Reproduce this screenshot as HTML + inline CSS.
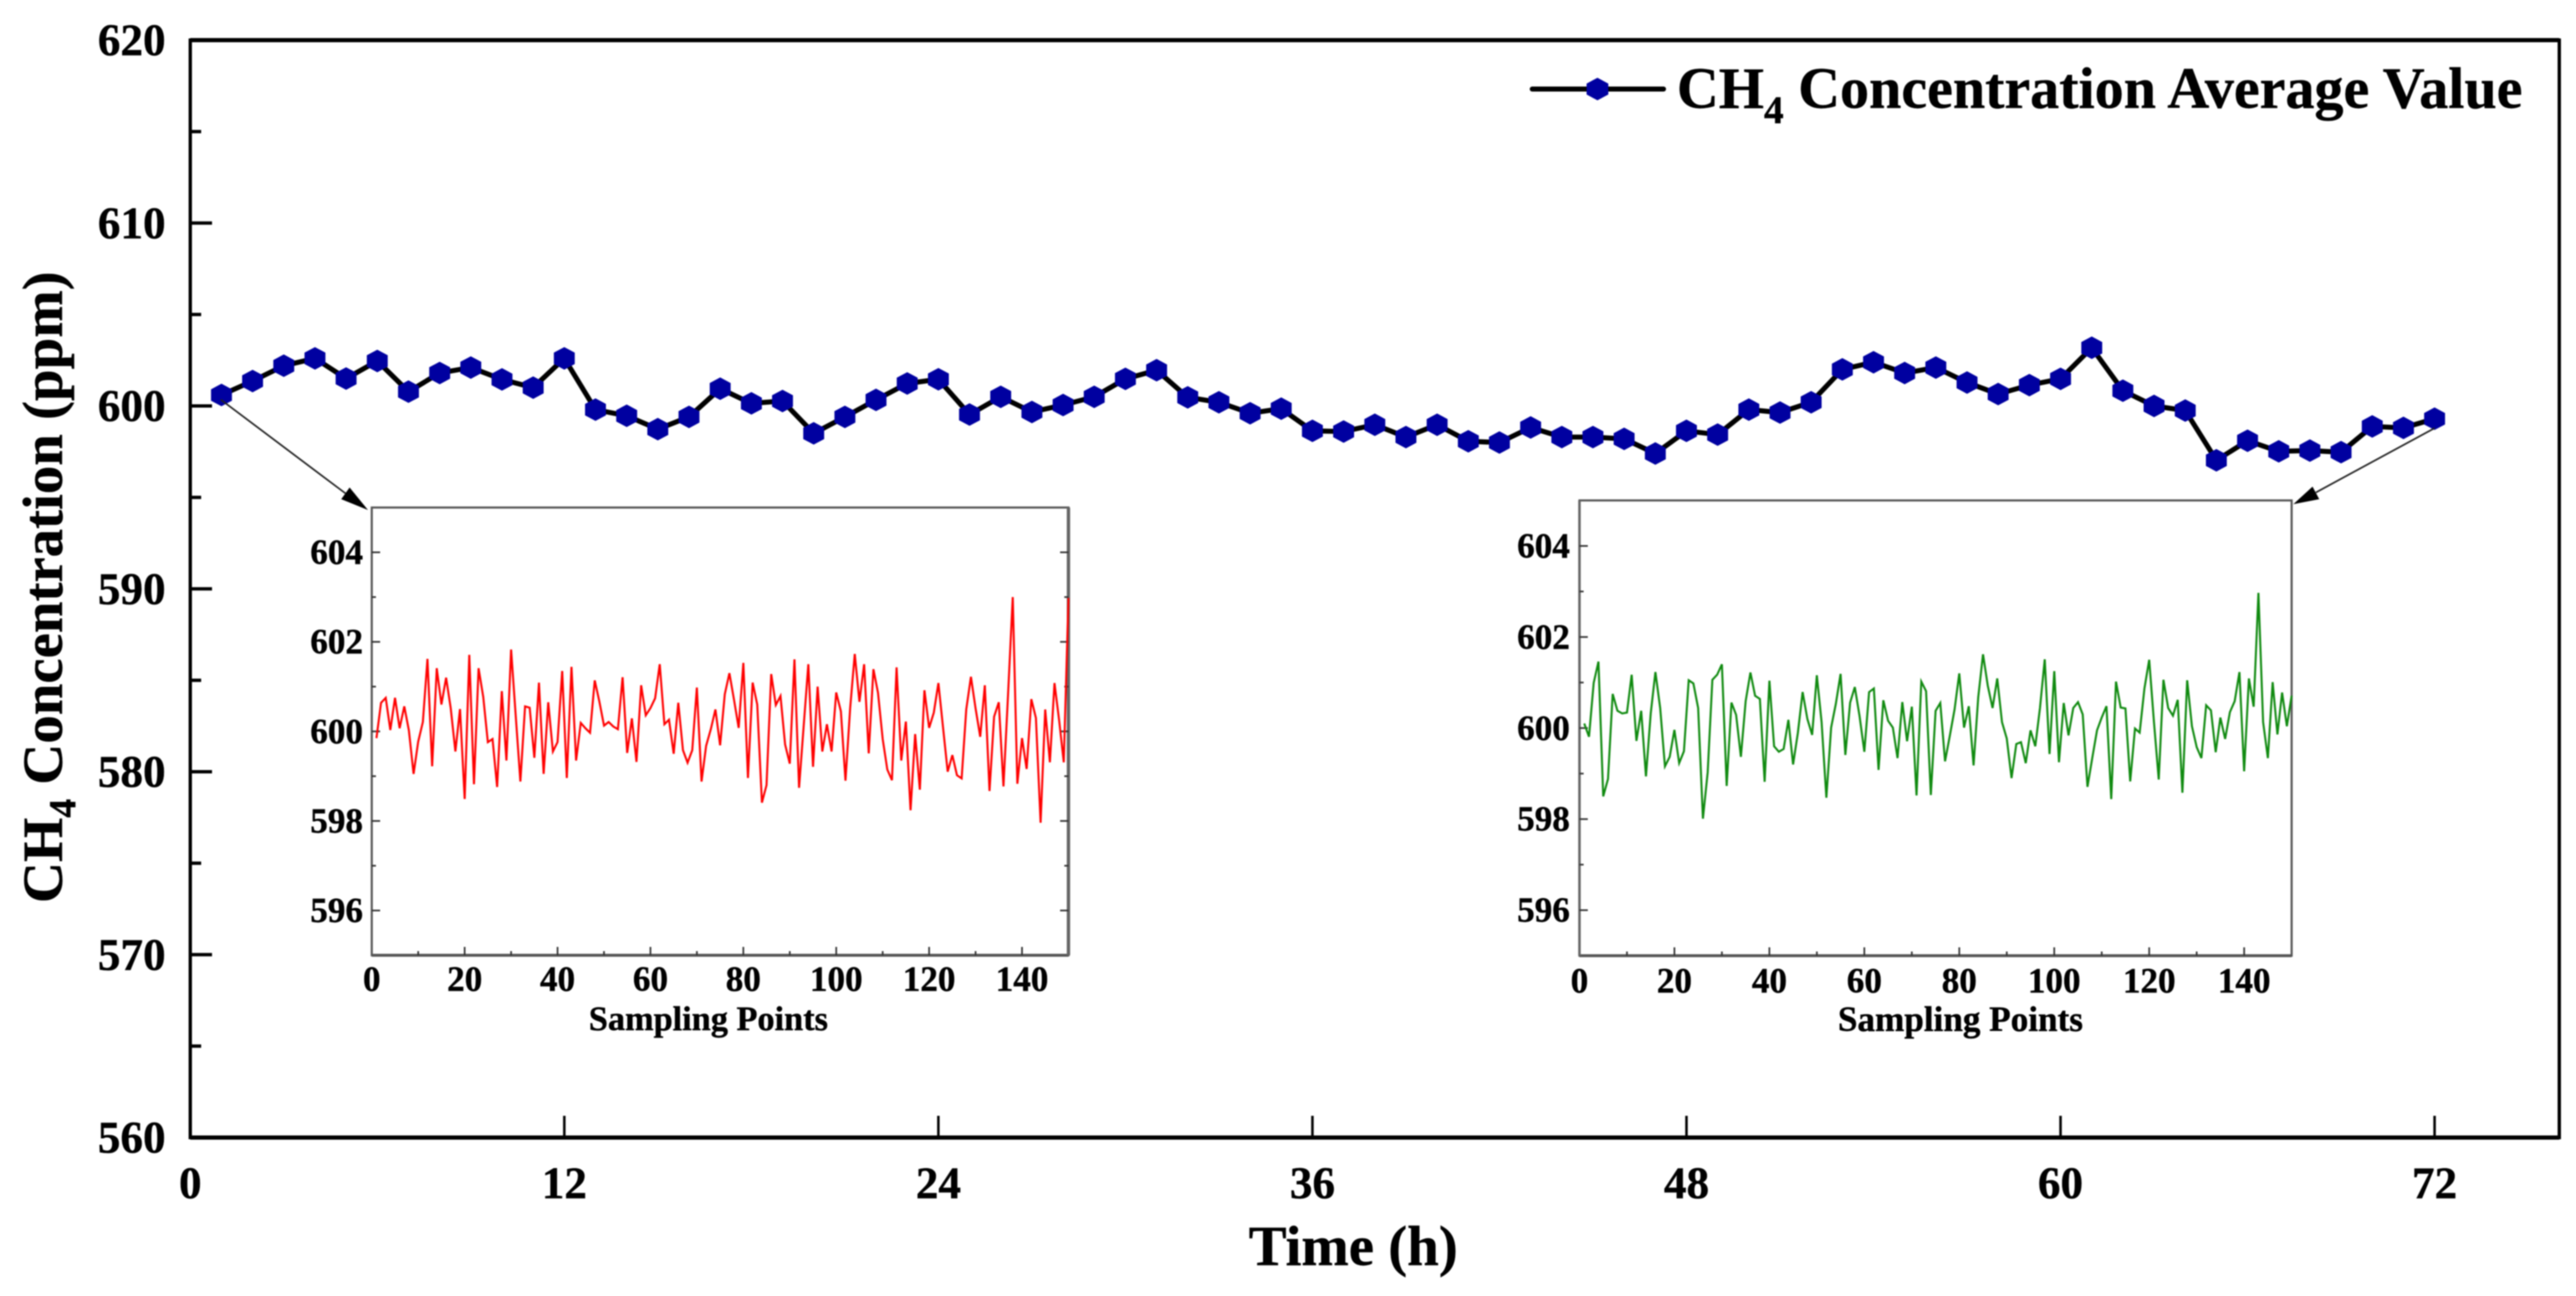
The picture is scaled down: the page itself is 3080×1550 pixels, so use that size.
<!DOCTYPE html>
<html lang="en">
<head>
<meta charset="utf-8">
<title>CH4 Concentration Average Value</title>
<style>
html,body{margin:0;padding:0;background:#fff;width:3080px;height:1550px;overflow:hidden}
svg{display:block;filter:blur(0.7px)}
text{font-family:"Liberation Serif",serif;font-weight:bold;fill:#000;stroke:#000;stroke-width:0.5px}
</style>
</head>
<body>
<svg id="chart" xmlns="http://www.w3.org/2000/svg" width="3080" height="1550" viewBox="0 0 3080 1550">
  <rect x="0" y="0" width="3080" height="1550" fill="#fff"/>
  <g id="main-axes"></g>
  <g id="main-series"></g>
  <text transform="translate(74,1080) rotate(-90)" font-size="68">CH<tspan font-size="45" dy="16">4</tspan><tspan dy="-16"> Concentration (ppm)</tspan></text>
  <text x="1618" y="1513" font-size="68" text-anchor="middle">Time (h)</text>
  <g>
    <line x1="1832" y1="106.5" x2="1989" y2="106.5" stroke="#000" stroke-width="6" stroke-linecap="round"/>
    <polygon points="1910,93 1923,100 1923,113 1910,120 1897,113 1897,100" fill="#0000a0"/>
    <text x="2005" y="129" font-size="69.4">CH<tspan font-size="47" dy="18">4</tspan><tspan dy="-18"> Concentration Average Value</tspan></text>
  </g>
  <g id="inset-start"></g>
  <g id="inset-end"></g>
  <g>
    <line x1="264" y1="478" x2="413" y2="590" stroke="#222" stroke-width="2"/>
    <polygon points="440,610 408,597 418,583" fill="#000"/>
  </g>
  <g>
    <line x1="2911" y1="512" x2="2769" y2="589" stroke="#222" stroke-width="2"/>
    <polygon points="2742,603 2765,582 2773,597" fill="#000"/>
  </g>
</svg>
<script>
// Main chart data
const hours = [1,2,3,4,5,6,7,8,9,10,11,12,13,14,15,16,17,18,19,20,21,22,23,24,25,26,27,28,29,30,31,32,33,34,35,36,37,38,39,40,41,42,43,44,45,46,47,48,49,50,51,52,53,54,55,56,57,58,59,60,61,62,63,64,65,66,67,68,69,70,71,72];
const averageValues = [600.60,601.36,602.20,602.60,601.50,602.46,600.78,601.80,602.10,601.45,601.00,602.60,599.80,599.46,598.73,599.40,600.94,600.14,600.27,598.50,599.40,600.33,601.23,601.46,599.53,600.50,599.67,600.05,600.50,601.48,601.95,600.47,600.20,599.60,599.85,598.64,598.60,598.97,598.30,598.97,598.07,598.00,598.82,598.30,598.30,598.20,597.40,598.64,598.43,599.80,599.64,600.20,602.00,602.39,601.80,602.10,601.28,600.65,601.14,601.48,603.18,600.83,600.00,599.75,597.03,598.10,597.52,597.56,597.47,598.88,598.80,599.30];
const xTickLabels = [0,12,24,36,48,60,72];
const yTickLabels = [560,570,580,590,600,610,620];
const yMinorTicks = [565,575,585,595,605,615];

// Inset data
const startSamples = [599.85,600.64,600.75,600.03,600.75,600.07,600.56,600.02,599.05,599.77,600.21,601.62,599.22,601.41,600.60,601.20,600.52,599.55,600.50,598.49,601.71,598.82,601.41,600.77,599.76,599.83,598.76,600.90,599.35,601.83,600.33,598.88,600.56,600.53,599.41,601.09,599.05,600.65,599.55,599.76,601.35,598.96,601.44,599.35,600.19,600.07,599.97,601.14,600.67,600.13,600.21,600.11,600.05,601.21,599.52,600.29,599.32,601.03,600.36,600.52,600.74,601.50,600.16,600.26,599.50,600.64,599.58,599.30,599.58,600.98,598.88,599.68,600.05,600.49,599.69,600.83,601.30,600.70,600.08,601.53,598.96,601.09,600.60,598.41,598.80,601.28,600.59,600.79,599.71,599.28,601.61,598.74,600.14,601.50,599.21,601.00,599.55,600.16,599.55,600.87,600.45,598.90,600.52,601.73,600.66,601.50,599.51,601.39,600.86,599.83,599.15,598.91,601.43,599.35,600.22,598.24,599.94,598.70,600.92,600.08,600.42,601.08,600.08,599.10,599.47,599.02,598.95,600.49,601.22,600.52,599.88,601.03,598.67,600.33,600.65,598.77,600.83,603.00,598.83,599.85,599.16,600.72,600.30,597.96,600.49,599.31,601.08,600.24,599.31,602.98];
const endSamples = [600.10,599.81,600.99,601.46,598.50,598.88,600.75,600.38,600.32,600.34,601.17,599.72,600.38,598.94,600.32,601.23,600.44,599.16,599.37,599.96,599.23,599.49,601.05,600.98,600.44,598.01,599.03,601.06,601.17,601.40,598.73,600.56,600.29,599.37,600.59,601.22,600.71,600.64,598.82,601.04,599.60,599.48,599.54,600.18,599.20,599.89,600.79,600.20,599.85,601.16,600.13,598.47,600.01,600.53,601.19,599.41,600.56,600.90,600.26,599.48,600.79,600.87,599.08,600.61,600.16,600.01,599.34,600.57,599.71,600.47,598.52,601.02,600.81,598.53,600.38,600.55,599.27,599.83,600.41,601.20,600.01,600.48,599.18,600.68,601.62,600.93,600.44,601.09,600.13,599.77,598.90,599.65,599.69,599.23,599.95,599.60,600.44,601.51,599.43,601.25,599.25,600.55,599.84,600.44,600.57,600.30,598.71,599.34,599.95,600.23,600.48,598.44,601.02,600.45,600.43,598.83,599.99,599.90,600.87,601.50,600.13,598.87,601.06,600.44,600.27,600.62,598.58,601.05,600.04,599.58,599.34,600.50,600.39,599.47,600.23,599.76,600.35,600.59,601.23,599.05,601.09,600.47,602.97,600.13,599.34,601.01,599.86,600.78,600.04,600.71];
const insetXTickLabels = [0,20,40,60,80,100,120,140];
const insetXMinorTicks = [10,30,50,70,90,110,130,150];
const insetYTickLabels = [596,598,600,602,604];
const insetYMinorTicks = [597,599,601,603];

const SVGNS = 'http://www.w3.org/2000/svg';

function make(parent, tag, attrs, txt) {
  const el = document.createElementNS(SVGNS, tag);
  for (const k in attrs) el.setAttribute(k, attrs[k]);
  if (txt !== undefined) el.textContent = txt;
  parent.appendChild(el);
  return el;
}

function linear(d0, d1, r0, r1) {
  return function (v) { return r0 + (v - d0) / (d1 - d0) * (r1 - r0); };
}

function drawMain() {
  const axes = document.getElementById('main-axes');
  const series = document.getElementById('main-series');
  const left = 227.5, right = 3060, top = 48, bottom = 1360.5;
  const xs = linear(0, 76, left, right);
  const ys = linear(560, 620, bottom, top);

  const frame = make(axes, 'path', {
    d: 'M' + left + ' ' + top + 'H' + right + 'V' + bottom + 'H' + left + 'Z',
    fill: 'none', stroke: '#000', 'stroke-width': 4
  });
  
  
  const topEdge = make(axes, 'line', { x1: left, y1: top, x2: right, y2: top, stroke: '#000', 'stroke-width': 5 });
  
  
  const bottomEdge = make(axes, 'line', { x1: left, y1: bottom, x2: right, y2: bottom, stroke: '#000', 'stroke-width': 5 });
  
  

  xTickLabels.forEach(function (t) {
    const x = xs(t);
    if (t !== 0) {
      const tick = make(axes, 'line', { x1: x, y1: bottom, x2: x, y2: bottom - 26, stroke: '#000', 'stroke-width': 3 });
      
      
    }
    const label = make(axes, 'text', { x: x, y: 1433, 'font-size': 54, 'text-anchor': 'middle' }, String(t));
    
    
  });

  yTickLabels.forEach(function (t) {
    const y = ys(t);
    if (t !== 560 && t !== 620) {
      const tick = make(axes, 'line', { x1: left, y1: y, x2: left + 26, y2: y, stroke: '#000', 'stroke-width': 4 });
      
      
    }
    const label = make(axes, 'text', { x: 198, y: y + 18, 'font-size': 54, 'text-anchor': 'end' }, String(t));
    
    
  });

  yMinorTicks.forEach(function (t) {
    const y = ys(t);
    const tick = make(axes, 'line', { x1: left, y1: y, x2: left + 13, y2: y, stroke: '#000', 'stroke-width': 4 });
    
    
  });

  const pts = hours.map(function (h, i) { return xs(h).toFixed(1) + ',' + ys(averageValues[i]).toFixed(1); }).join(' ');
  const line = make(series, 'polyline', { points: pts, fill: 'none', stroke: '#000', 'stroke-width': 6, 'stroke-linejoin': 'round' });
  
  

  hours.forEach(function (h, i) {
    const cx = xs(h), cy = ys(averageValues[i]);
    const hex = [[0,-13.5],[12.5,-6.8],[12.5,6.8],[0,13.5],[-12.5,6.8],[-12.5,-6.8]]
      .map(function (p) { return (cx + p[0]).toFixed(1) + ',' + (cy + p[1]).toFixed(1); }).join(' ');
    const marker = make(series, 'polygon', { points: hex, fill: '#0000a0' });
    
    
  });
}

function drawInset(id, values, color, box, mirror, thick) {
  const g = document.getElementById(id);
  const xs = linear(0, 150, box.left, box.right);
  const ys = linear(595, 605, box.bottom, box.top);
  const frameStroke = '#555';

  const bg = make(g, 'rect', { x: box.left, y: box.top, width: box.right - box.left, height: box.bottom - box.top, fill: '#fff', stroke: frameStroke, 'stroke-width': 2.5 });
  
  
  const base = make(g, 'line', { x1: box.left, y1: box.bottom, x2: box.right, y2: box.bottom, stroke: frameStroke, 'stroke-width': 3.5 });
  
  
  const thickX = thick === 'right' ? box.right : box.left;
  const edge = make(g, 'line', { x1: thickX, y1: box.top, x2: thickX, y2: box.bottom, stroke: '#666', 'stroke-width': thick === 'right' ? 4 : 3 });
  
  

  insetXTickLabels.forEach(function (t) {
    const x = xs(t);
    if (t !== 0) {
      const tick = make(g, 'line', { x1: x, y1: box.bottom, x2: x, y2: box.bottom - 10, stroke: '#333', 'stroke-width': 2 });
      
      
    }
    const label = make(g, 'text', { x: x, y: box.xLabelY, 'font-size': 42, 'text-anchor': 'middle' }, String(t));
    
    
  });
  insetXMinorTicks.forEach(function (t) {
    if (t === 150) return;
    const x = xs(t);
    const tick = make(g, 'line', { x1: x, y1: box.bottom, x2: x, y2: box.bottom - 5, stroke: '#333', 'stroke-width': 2 });
    
    
  });

  insetYTickLabels.forEach(function (t) {
    const y = ys(t);
    const tick = make(g, 'line', { x1: box.left, y1: y, x2: box.left + 10, y2: y, stroke: '#333', 'stroke-width': 2 });
    
    
    if (mirror) {
      const rt = make(g, 'line', { x1: box.right, y1: y, x2: box.right - 10, y2: y, stroke: '#333', 'stroke-width': 2 });
      
      
    }
    const label = make(g, 'text', { x: box.yLabelX, y: y + 14, 'font-size': 42, 'text-anchor': 'end' }, String(t));
    
    
  });
  insetYMinorTicks.forEach(function (t) {
    const y = ys(t);
    const tick = make(g, 'line', { x1: box.left, y1: y, x2: box.left + 5, y2: y, stroke: '#333', 'stroke-width': 2 });
    
    
    if (mirror) {
      const rt = make(g, 'line', { x1: box.right, y1: y, x2: box.right - 5, y2: y, stroke: '#333', 'stroke-width': 2 });
      
      
    }
  });

  const pts = values.map(function (v, i) { return xs(i + 1).toFixed(1) + ',' + ys(v).toFixed(1); }).join(' ');
  const line = make(g, 'polyline', { points: pts, fill: 'none', stroke: color, 'stroke-width': 2.4, 'stroke-linejoin': 'miter' });
  
  

  const title = make(g, 'text', { x: box.titleX, y: box.titleY, 'font-size': box.titleSize, 'text-anchor': 'middle' }, 'Sampling Points');
  
  
}

drawMain();
drawInset('inset-start', startSamples, '#ff0000', { left: 444.5, right: 1277.5, top: 607, bottom: 1142.5, xLabelY: 1185, titleX: 847, titleY: 1232, titleSize: 41, yLabelX: 434 }, true, 'right');
drawInset('inset-end', endSamples, '#108a10', { left: 1888.5, right: 2740, top: 598.5, bottom: 1143, xLabelY: 1187, titleX: 2344, titleY: 1233, titleSize: 42, yLabelX: 1877 }, false, 'left');
</script>
</body>
</html>
